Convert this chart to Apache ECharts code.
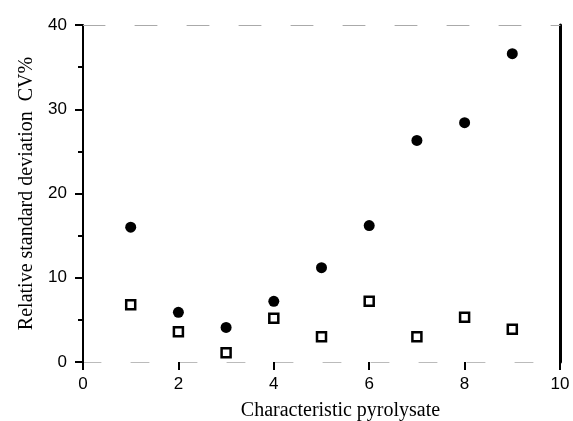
<!DOCTYPE html>
<html>
<head>
<meta charset="utf-8">
<script src="https://cdn.jsdelivr.net/npm/echarts@6/dist/echarts.min.js"></script>
<style>
  html, body { margin: 0; padding: 0; background: #fff; }
  #main { width: 573px; height: 421px; }
</style>
</head>
<body>
<div id="main"></div>
<script>
// characteristic pyrolysate index
const pyrolysate = [1, 2, 3, 4, 5, 6, 7, 8, 9];
// filled markers
const cvFilled = [16.0, 5.9, 4.1, 7.2, 11.2, 16.2, 26.3, 28.4, 36.6];
// open squares
const cvOpen = [6.8, 3.6, 1.1, 5.2, 3.0, 7.2, 3.0, 5.3, 3.9];

const chart = echarts.init(document.getElementById('main'));

const tickFont = { fontFamily: 'Liberation Sans', fontSize: 17, color: '#000' };

const option = {
  backgroundColor: '#fff',
  animation: false,
  grid: { left: 83, right: 13, top: 25, bottom: 59, containLabel: false, outerBoundsMode: 'none' },
  xAxis: [
    {
      type: 'value', min: 0, max: 10, interval: 2,
      name: 'Characteristic pyrolysate',
      nameLocation: 'middle', nameGap: 39,
      nameTextStyle: { fontFamily: 'Liberation Serif', fontSize: 20, color: '#000', padding: [0, 0, 0, 38] },
      axisLine: { show: true, lineStyle: { color: '#bbb', width: 1, type: [18, 30] } },
      axisTick: { show: true, length: 8, lineStyle: { color: '#000', width: 2 } },
      axisLabel: Object.assign({ margin: 14 }, tickFont),
      splitLine: { show: false }
    },
    {
      type: 'value', min: 0, max: 10, position: 'top',
      axisLine: { show: true, onZero: false, lineStyle: { color: '#aaa', width: 1, type: [22, 30] } },
      axisTick: { show: false }, axisLabel: { show: false }, splitLine: { show: false }
    }
  ],
  yAxis: [
    {
      type: 'value', min: 0, max: 40, interval: 10,
      name: 'Relative standard deviation  CV%',
      nameLocation: 'middle', nameGap: 45,
      nameTextStyle: { fontFamily: 'Liberation Serif', fontSize: 20, color: '#000' },
      axisLine: { show: true, lineStyle: { color: '#000', width: 2 } },
      axisTick: { show: true, length: 8, lineStyle: { color: '#000', width: 2 } },
      minorTick: { show: true, splitNumber: 2, length: 5, lineStyle: { color: '#000', width: 2 } },
      axisLabel: Object.assign({ margin: 16 }, tickFont),
      splitLine: { show: false }
    },
    {
      type: 'value', min: 0, max: 40, position: 'right',
      axisLine: { show: true, onZero: false, lineStyle: { color: '#000', width: 3 } },
      axisTick: { show: false }, axisLabel: { show: false }, splitLine: { show: false }
    }
  ],
  series: [
    {
      name: 'filled',
      type: 'scatter',
      symbol: 'circle',
      symbolSize: 11,
      itemStyle: { color: '#000', opacity: 1 },
      data: pyrolysate.map((x, i) => [x, cvFilled[i]])
    },
    {
      name: 'open',
      type: 'scatter',
      symbol: 'rect',
      symbolSize: 9,
      itemStyle: { color: '#fff', borderColor: '#000', borderWidth: 2.5, opacity: 1 },
      data: pyrolysate.map((x, i) => [x, cvOpen[i]])
    }
  ]
};

chart.setOption(option);
</script>
</body>
</html>
